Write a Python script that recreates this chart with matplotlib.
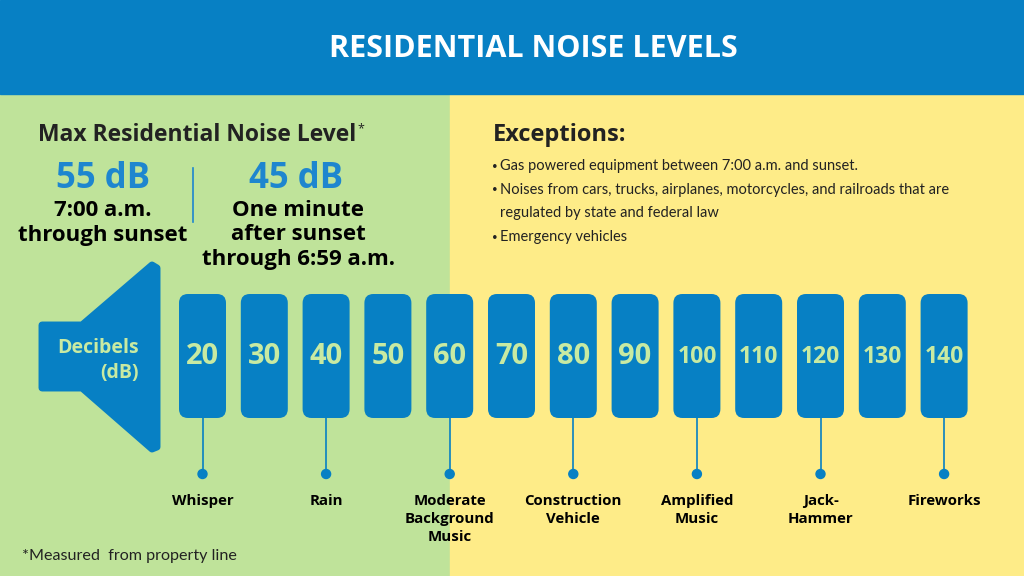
import matplotlib
matplotlib.use("Agg")
import matplotlib.pyplot as plt
from matplotlib.patches import FancyBboxPatch, Rectangle, Polygon, Circle

# ---- data ----
title = "RESIDENTIAL NOISE LEVELS"
levels = [20, 30, 40, 50, 60, 70, 80, 90, 100, 110, 120, 130, 140]
source_levels = [20, 40, 60, 80, 100, 120, 140]
source_names = ["Whisper", "Rain", "Moderate\nBackground\nMusic", "Construction\nVehicle",
                "Amplified\nMusic", "Jack-\nHammer", "Fireworks"]
day_limit = "55 dB"
day_text = ["7:00 a.m.", "through sunset"]
night_limit = "45 dB"
night_text = ["One minute", "after sunset", "through 6:59 a.m."]
exceptions = [["Gas powered equipment between 7:00 a.m. and sunset."],
              ["Noises from cars, trucks, airplanes, motorcycles, and railroads that are",
               "regulated by state and federal law"],
              ["Emergency vehicles"]]
footnote = "*Measured  from property line"

# ---- colours ----
BLUE = "#0780C4"
GREEN = "#BFE39A"
YELLOW = "#FEEC88"
PALE = "#C8EAA2"
DARK = "#222222"
TBLUE = "#1E86CF"

fig = plt.figure(figsize=(10.24, 5.76), dpi=100)
ax = fig.add_axes([0, 0, 1, 1])
ax.set_xlim(0, 1024)
ax.set_ylim(576, 0)
ax.axis("off")

# backgrounds
ax.add_patch(Rectangle((0, 94), 450, 482, color=GREEN, zorder=0))
ax.add_patch(Rectangle((450, 94), 574, 482, color=YELLOW, zorder=0))
ax.add_patch(Rectangle((0, 0), 1024, 94, color=BLUE, zorder=1))

HF = ["Open Sans", "DejaVu Sans"]
BF = ["Lato", "DejaVu Sans"]

ax.text(533, 49, title, ha="center", va="center", color="white",
        fontsize=22, fontweight="bold", family=HF, zorder=3)

# left panel
ax.text(38, 135, "Max Residential Noise Level", ha="left", va="center", color=DARK,
        fontsize=16.5, fontweight="bold", family=HF)
ax.text(357, 129, "*", ha="left", va="center", color=DARK, fontsize=9, family=HF)
ax.text(103, 179, day_limit, ha="center", va="center", color=TBLUE,
        fontsize=25, fontweight="bold", family=HF)
for k, line in enumerate(day_text):
    ax.text(103, 211 + 24 * k, line, ha="center", va="center", color="black",
            fontsize=16, fontweight="bold", family=HF)
ax.plot([193, 193], [168, 222], color=TBLUE, lw=1.2)
ax.text(296, 179, night_limit, ha="center", va="center", color=TBLUE,
        fontsize=25, fontweight="bold", family=HF)
for k, line in enumerate(night_text):
    ax.text(298, 211 + 24 * k, line, ha="center", va="center", color="black",
            fontsize=16, fontweight="bold", family=HF)

# exceptions
ax.text(493, 135, "Exceptions:", ha="left", va="center", color=DARK,
        fontsize=17, fontweight="bold", family=HF)
y = 166
for item in exceptions:
    ax.text(492, y, "\u2022", ha="left", va="center", color=DARK, fontsize=7, family=BF)
    for line in item:
        ax.text(500, y, line, ha="left", va="center", color=DARK, fontsize=10.5, family=BF)
        y += 23.7

# speaker
spk = Polygon([(42, 325), (82, 325), (152, 265), (157, 268), (157, 447), (152, 449),
               (82, 388), (42, 388)], closed=True, facecolor=BLUE, edgecolor=BLUE,
              lw=5, joinstyle="round", zorder=2)
ax.add_patch(spk)
ax.text(139, 348, "Decibels", ha="right", va="center", color=PALE,
        fontsize=14, fontweight="bold", family=HF, zorder=3)
ax.text(139, 373, "(dB)", ha="right", va="center", color=PALE,
        fontsize=14, fontweight="bold", family=HF, zorder=3)

# bars
x0, step, bw = 202.5, 61.8, 47
top, bot = 294, 418
centers = {}
for i, lv in enumerate(levels):
    cx = x0 + i * step
    centers[lv] = cx
    ax.add_patch(FancyBboxPatch((cx - bw / 2, top), bw, bot - top,
                                boxstyle="round,pad=0,rounding_size=9",
                                facecolor=BLUE, edgecolor="none", zorder=2))
    fs = 21 if lv < 100 else 16.5
    ax.text(cx, 357, str(lv), ha="center", va="center", color=PALE,
            fontsize=fs, fontweight="bold", family=HF, zorder=3)

for lv, name in zip(source_levels, source_names):
    cx = centers[lv]
    ax.plot([cx, cx], [bot, 474], color=BLUE, lw=1.2, zorder=2)
    ax.add_patch(Circle((cx, 474), 4.5, color=BLUE, zorder=3))
    for k, line in enumerate(name.split("\n")):
        ax.text(cx, 501 + 18 * k, line, ha="center", va="center", color="black",
                fontsize=10.8, fontweight="bold", family=HF)

ax.text(22, 556, footnote, ha="left", va="center", color=DARK, fontsize=11.6, family=BF)

fig.savefig("out.png", dpi=100)
